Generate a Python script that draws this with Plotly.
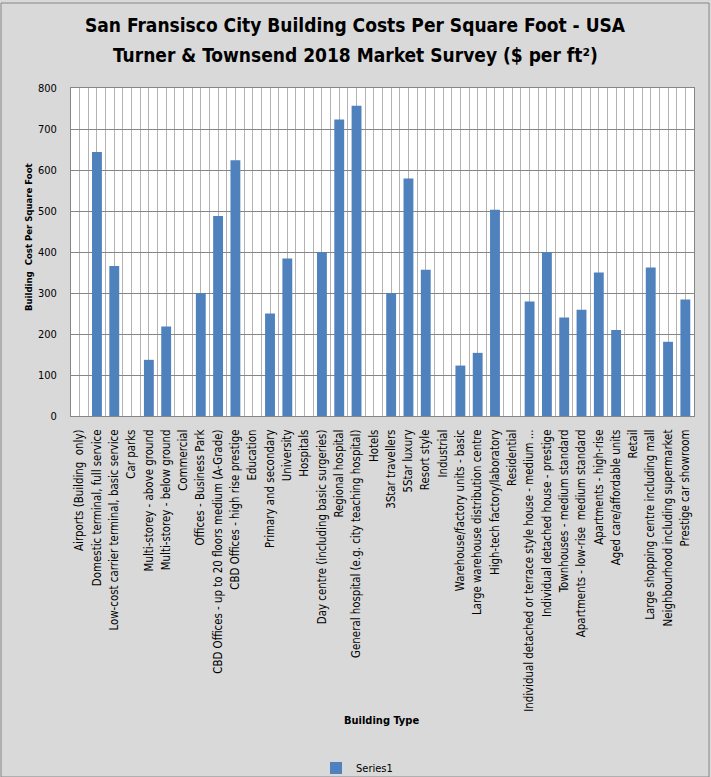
import plotly.graph_objects as go

# San Francisco building costs, Turner & Townsend 2018 ($ per sq ft)
categories = [
    "Airports (Building  only)",
    "Domestic terminal, full service",
    "Low-cost carrier terminal, basic service",
    "Car parks",
    "Multi-storey - above ground",
    "Multi-storey - below ground",
    "Commercial",
    "Offices - Business Park",
    "CBD Offices - up to 20 floors medium (A-Grade)",
    "CBD Offices - high rise prestige",
    "Education",
    "Primary and secondary",
    "University",
    "Hospitals",
    "Day centre (including basic surgeries)",
    "Regional hospital",
    "General hospital (e.g. city teaching hospital)",
    "Hotels",
    "3Star travellers",
    "5Star luxury",
    "Resort style",
    "Industrial",
    "Warehouse/factory units - basic",
    "Large warehouse distribution centre",
    "High-tech factory/laboratory",
    "Residential",
    "Individual detached or terrace style house - medium ...",
    "Individual detached house - prestige",
    "Townhouses - medium standard",
    "Apartments - low-rise  medium standard",
    "Apartments - high-rise",
    "Aged care/affordable units",
    "Retail",
    "Large shopping centre including mall",
    "Neighbourhood including supermarket",
    "Prestige car showroom",
]
costs = [
    0, 644, 366, 0, 137, 218, 0, 300, 488, 624, 0, 250, 384, 0, 400, 723,
    757, 0, 300, 579, 357, 0, 123, 154, 503, 0, 279, 400, 240, 259, 350,
    210, 0, 362, 181, 284,
]
y_ticks = [0, 100, 200, 300, 400, 500, 600, 700, 800]

FONT = "DejaVu Sans Condensed, Liberation Sans, sans-serif"
positions = list(range(len(categories)))

# plot area in pixels of the 711x777 picture: 71..694 x 86..414
L, T, R, B = 71, 86, 694, 414
PW, PH = R - L, B - T
# the page viewport comes out a bit taller than the picture, so stretch
H = 795
K = H / 777

fig = go.Figure()
fig.add_trace(go.Bar(
    x=positions, y=costs, name="Series1",
    marker=dict(color="#4f81bd", line=dict(width=0)),
    width=0.57,
))

fig.update_layout(
    width=711, height=H,
    margin=dict(l=L, r=711 - R, t=round(T * K), b=H - round(B * K)),
    paper_bgcolor="#d9d9d9",
    plot_bgcolor="white",
    font=dict(family=FONT, size=11, color="black"),
    showlegend=True,
    legend=dict(
        orientation="h", x=(357 - L) / PW, xanchor="center",
        y=(B - 766) / PH, yanchor="middle",
        bgcolor="rgba(0,0,0,0)", font=dict(size=11),
        itemwidth=30,
    ),
)

fig.update_xaxes(
    range=[-0.5, len(categories) - 0.5],
    tickmode="array", tickvals=positions, ticktext=categories,
    tickangle=-90, ticks="", tickfont=dict(size=11.4), ticklabelstandoff=8,
    showgrid=True, gridcolor="#b3b3b3", gridwidth=1,
    minor=dict(tickmode="linear", tick0=0.5, dtick=1, showgrid=True,
               gridcolor="#b3b3b3", gridwidth=1),
    showline=True, linecolor="#868686", linewidth=1, mirror=True,
    zeroline=False, automargin=False,
)
fig.update_yaxes(
    range=[0, 800], tickmode="array", tickvals=y_ticks,
    ticks="", tickfont=dict(size=11), ticklabelstandoff=11,
    showgrid=True, gridcolor="#868686", gridwidth=1,
    showline=True, linecolor="#868686", linewidth=1, mirror=True,
    zeroline=False, automargin=False,
)

# title, two lines
fig.add_annotation(
    text="<b>San Fransisco City Building Costs Per Square Foot - USA</b>",
    xref="paper", yref="paper", x=(355 - L) / PW, y=(B - 23) / PH,
    xanchor="center", yanchor="middle", showarrow=False,
    font=dict(size=19),
)
fig.add_annotation(
    text="<b>Turner & Townsend 2018 Market Survey ($ per ft²)</b>",
    xref="paper", yref="paper", x=(355 - L) / PW, y=(B - 53) / PH,
    xanchor="center", yanchor="middle", showarrow=False,
    font=dict(size=19),
)

# axis titles
fig.add_annotation(
    text="<b>Building Type</b>", xref="paper", yref="paper",
    x=(381 - L) / PW, y=(B - 718) / PH, xanchor="center", yanchor="middle",
    showarrow=False, font=dict(size=11),
)
fig.add_annotation(
    text="<b>Building  Cost Per Square Foot</b>", xref="paper", yref="paper",
    x=(28 - L) / PW, y=(B - 235) / PH, xanchor="center", yanchor="middle",
    textangle=-90, showarrow=False, font=dict(size=9.5),
)

# chart border
fig.add_shape(
    type="rect", xref="paper", yref="paper",
    x0=(1 - L) / PW, x1=(709 - L) / PW, y0=(B - 775) / PH, y1=(B - 1) / PH,
    line=dict(color="#868686", width=1), layer="below",
)

fig.write_html(
    "out.html",
    config={"displayModeBar": False},
    post_script=(
        "document.body.style.margin='0';"
        "document.body.style.overflow='hidden';"
        "document.documentElement.style.overflow='hidden';"
    ),
)
